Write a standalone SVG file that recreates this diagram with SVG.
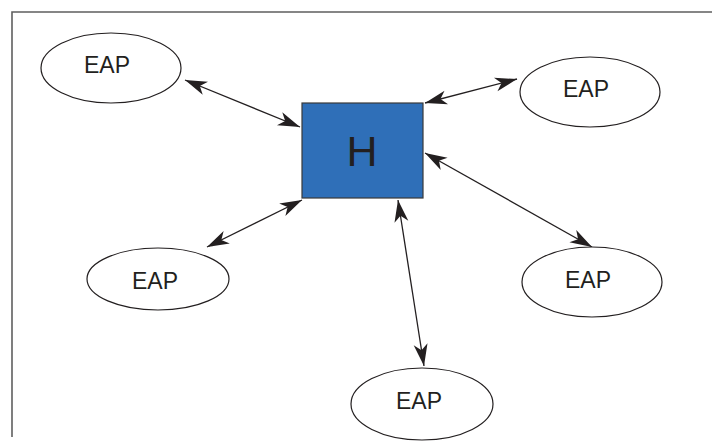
<svg xmlns="http://www.w3.org/2000/svg" width="712" height="442" viewBox="0 0 712 442">
  <style>
    .frame { fill: none; stroke: #5f5f5f; stroke-width: 1.6; }
    .eap { fill: #ffffff; stroke: #231f20; stroke-width: 1.2; }
    .hub { fill: #2f6fb8; stroke: #3a3a3a; stroke-width: 1.2; }
    .lbl { font-family: "Liberation Sans", Arial, sans-serif; font-size: 23px; fill: #231f20; text-anchor: middle; }
    .hlbl { font-family: "Liberation Sans", Arial, sans-serif; font-size: 43px; fill: #231f20; text-anchor: middle; }
    .link { fill: none; stroke: #231f20; stroke-width: 1.3; marker-start: url(#arrow); marker-end: url(#arrow); }
  </style>
  <defs>
    <marker id="arrow" markerUnits="userSpaceOnUse" markerWidth="26" markerHeight="18" viewBox="-24 -9 26 18" refX="0" refY="0" orient="auto-start-reverse">
      <path d="M0,0 L-22,-7 L-16,0 L-22,7 Z" fill="#231f20"/>
    </marker>
  </defs>

  <rect width="712" height="442" fill="#ffffff"/>
  <!-- open frame: top and left edges only -->
  <path class="frame" d="M12,437 L12,12 L712,12"/>

  <g id="connectors">
    <line class="link" x1="185" y1="80" x2="300" y2="127"/>
    <line class="link" x1="425" y1="103" x2="517" y2="79"/>
    <line class="link" x1="207" y1="247" x2="302" y2="200"/>
    <line class="link" x1="398" y1="200" x2="424" y2="366"/>
    <line class="link" x1="425" y1="153" x2="592" y2="247"/>
  </g>

  <g id="hub">
    <rect class="hub" x="302" y="103" width="121" height="95"/>
    <text class="hlbl" x="362" y="166">H</text>
  </g>

  <g id="eap-top-left">
    <ellipse class="eap" cx="111" cy="68" rx="70" ry="35"/>
    <text class="lbl" x="107" y="73">EAP</text>
  </g>
  <g id="eap-top-right">
    <ellipse class="eap" cx="590" cy="92" rx="70" ry="35"/>
    <text class="lbl" x="586" y="97">EAP</text>
  </g>
  <g id="eap-bottom-left">
    <ellipse class="eap" cx="158" cy="279" rx="71" ry="31"/>
    <text class="lbl" x="155" y="289">EAP</text>
  </g>
  <g id="eap-right">
    <ellipse class="eap" cx="592" cy="282" rx="70" ry="35"/>
    <text class="lbl" x="588" y="288">EAP</text>
  </g>
  <g id="eap-bottom">
    <ellipse class="eap" cx="422" cy="404" rx="71" ry="36"/>
    <text class="lbl" x="419" y="409">EAP</text>
  </g>
</svg>
